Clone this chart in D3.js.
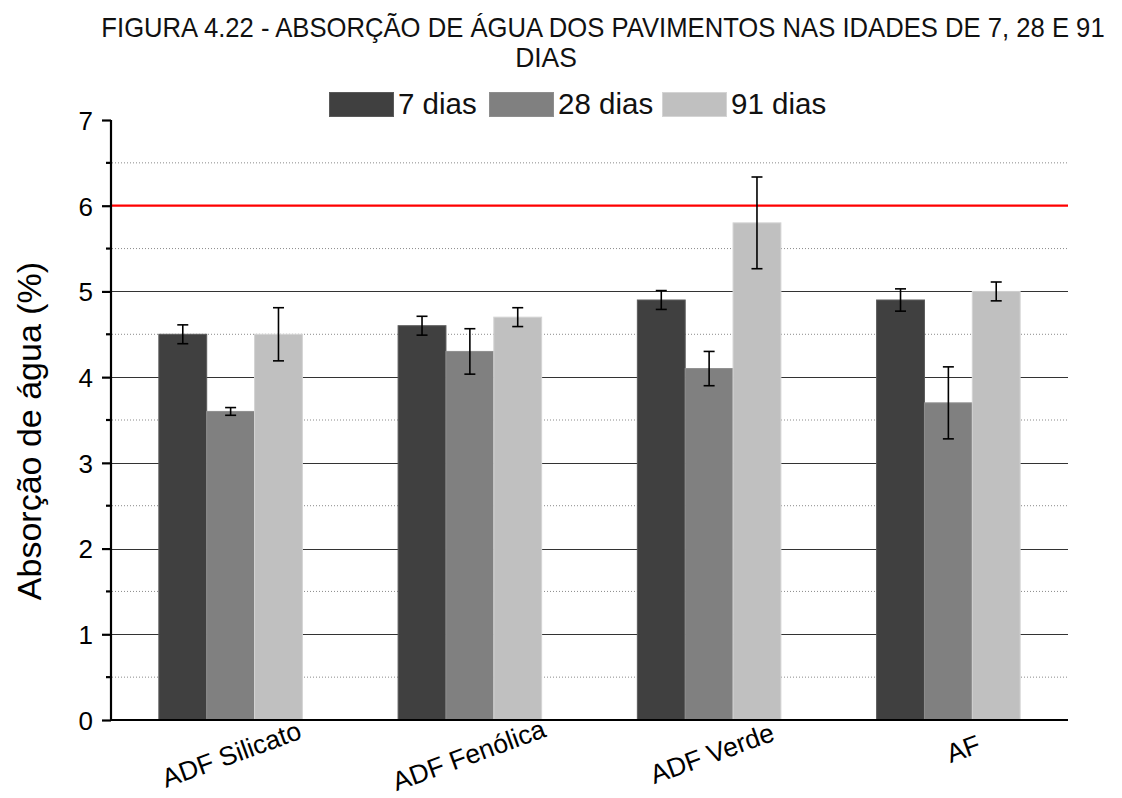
<!DOCTYPE html>
<html>
<head>
<meta charset="utf-8">
<script src="https://cdn.jsdelivr.net/npm/d3@7"></script>
<style>
  html, body { margin: 0; padding: 0; background: #fff; }
  svg { display: block; font-family: "Liberation Sans", Arial, sans-serif; }
</style>
</head>
<body>
<svg id="chart" width="1122" height="798"></svg>
<script>
// Water absorption of pavers at 7, 28 and 91 days
const categories = ["ADF Silicato", "ADF Fenólica", "ADF Verde", "AF"];
const seriesNames = ["7 dias", "28 dias", "91 dias"];
const values7 = [4.5, 4.6, 4.9, 4.9];
const values28 = [3.6, 4.3, 4.1, 3.7];
const values91 = [4.5, 4.7, 5.8, 5.0];
const err7 = [0.11, 0.11, 0.11, 0.13];
const err28 = [0.045, 0.265, 0.2, 0.42];
const err91 = [0.31, 0.11, 0.535, 0.11];
const limitValue = 6;
const yTicks = [0, 1, 2, 3, 4, 5, 6, 7];
const yMinorTicks = [0.5, 1.5, 2.5, 3.5, 4.5, 5.5, 6.5];

const colors = ["#404040", "#808080", "#c0c0c0"];
const edgeColors = ["#5a5a5a", "#8e8e8e", "#d4d4d4"];

const seriesValues = [values7, values28, values91];
const seriesErrors = [err7, err28, err91];

const svg = d3.select("#chart");
const plotLeft = 111, plotRight = 1068, plotTop = 120, plotBottom = 720;

const x = d3.scaleBand().domain(categories).range([plotLeft, plotRight]).paddingInner(0.4).paddingOuter(0.2);
const xs = d3.scaleBand().domain(seriesNames).range([0, x.bandwidth()]);
const y = d3.scaleLinear().domain([0, 7]).range([plotBottom, plotTop]);

// Title (two lines), slightly condensed horizontally
const title = svg.append("g").attr("fill", "#111").attr("font-size", 27);
title.append("text").attr("text-anchor", "middle")
  .attr("transform", "translate(603,37) scale(0.95,1)")
  .text("FIGURA 4.22 - ABSORÇÃO DE ÁGUA DOS PAVIMENTOS NAS IDADES DE 7, 28 E 91");
title.append("text").attr("text-anchor", "middle")
  .attr("transform", "translate(546,67) scale(0.98,1)")
  .text("DIAS");

// Legend
const legendX = [329, 489, 662];
const legend = svg.append("g");
seriesNames.forEach((name, i) => {
  legend.append("rect").attr("x", legendX[i] + 0.5).attr("y", 92.5).attr("width", 64).attr("height", 24)
    .attr("fill", colors[i]).attr("stroke", edgeColors[i]).attr("stroke-width", 1);
  legend.append("text").attr("x", legendX[i] + 69).attr("y", 114).attr("font-size", 29.5)
    .attr("fill", "#111").text(name);
});

// Grid lines
const grid = svg.append("g");
grid.selectAll("line.minor").data(yMinorTicks).join("line").attr("class", "minor")
  .attr("x1", plotLeft + 1).attr("x2", plotRight).attr("y1", d => y(d)).attr("y2", d => y(d))
  .attr("stroke", "#8a8a8a").attr("stroke-width", 1).attr("stroke-dasharray", "1,2");
grid.selectAll("line.major").data(yTicks.filter(d => d > 0 && d < 7 && d !== limitValue)).join("line")
  .attr("class", "major")
  .attr("x1", plotLeft).attr("x2", plotRight)
  .attr("y1", d => Math.round(y(d)) + 0.5).attr("y2", d => Math.round(y(d)) + 0.5)
  .attr("stroke", "#333").attr("stroke-width", 1.2);

// Limit line
svg.append("line").attr("x1", plotLeft).attr("x2", plotRight)
  .attr("y1", y(limitValue)).attr("y2", y(limitValue))
  .attr("stroke", "#ff0000").attr("stroke-width", 2.2);

// Bars
const groups = svg.append("g").selectAll("g").data(categories).join("g")
  .attr("transform", d => `translate(${x(d)},0)`);
seriesNames.forEach((name, si) => {
  groups.append("rect")
    .attr("x", xs(name)).attr("width", xs.bandwidth())
    .attr("y", (d, ci) => y(seriesValues[si][ci]))
    .attr("height", (d, ci) => y(0) - y(seriesValues[si][ci]))
    .attr("fill", colors[si]).attr("stroke", edgeColors[si]).attr("stroke-width", 1);
});

// Error bars
seriesNames.forEach((name, si) => {
  const eb = groups.append("g").attr("stroke", "#000").attr("stroke-width", 1.6);
  const cx = xs(name) + xs.bandwidth() / 2;
  eb.append("line").attr("x1", cx).attr("x2", cx)
    .attr("y1", (d, ci) => y(seriesValues[si][ci] + seriesErrors[si][ci]))
    .attr("y2", (d, ci) => y(seriesValues[si][ci] - seriesErrors[si][ci]));
  [1, -1].forEach(sign => {
    eb.append("line").attr("x1", cx - 5.5).attr("x2", cx + 5.5)
      .attr("y1", (d, ci) => y(seriesValues[si][ci] + sign * seriesErrors[si][ci]))
      .attr("y2", (d, ci) => y(seriesValues[si][ci] + sign * seriesErrors[si][ci]));
  });
});

// Y axis
const yAxis = svg.append("g").attr("transform", `translate(${plotLeft},0)`)
  .call(d3.axisLeft(y).tickValues(yTicks).tickSize(9).tickPadding(9).tickFormat(d3.format("d")));
yAxis.select(".domain").attr("stroke", "#000").attr("stroke-width", 2.2)
  .attr("d", `M0,${plotBottom}V${plotTop}`);
yAxis.selectAll(".tick line").attr("stroke", "#000").attr("stroke-width", 2.2);
yAxis.selectAll(".tick text").attr("font-size", 26).attr("fill", "#000")
  .attr("font-family", "'Liberation Sans', Arial, sans-serif").attr("dy", "0.36em");
svg.append("g").selectAll("line").data(yMinorTicks).join("line")
  .attr("x1", plotLeft - 5).attr("x2", plotLeft).attr("y1", d => y(d)).attr("y2", d => y(d))
  .attr("stroke", "#000").attr("stroke-width", 2.2);

// X axis
svg.append("line").attr("x1", plotLeft - 1).attr("x2", plotRight).attr("y1", plotBottom).attr("y2", plotBottom)
  .attr("stroke", "#000").attr("stroke-width", 2.2);
// Rotated category labels; longer labels sit slightly lower and further left
svg.append("g").selectAll("text").data(categories).join("text")
  .attr("text-anchor", "middle").attr("font-size", 26.5).attr("fill", "#000")
  .text(d => d)
  .each(function (d) {
    const len = this.getComputedTextLength();
    const cx = x(d) + x.bandwidth() / 2 + 19 - 0.125 * len;
    const cy = 747 + 0.05 * len;
    d3.select(this).attr("transform", `translate(${cx + 3.2},${cy + 8.7}) rotate(-20)`);
  });

// Y axis title
svg.append("text").attr("transform", `translate(41,431) rotate(-90)`)
  .attr("text-anchor", "middle").attr("font-size", 34).attr("fill", "#000")
  .text("Absorção de água (%)");
</script>
</body>
</html>
